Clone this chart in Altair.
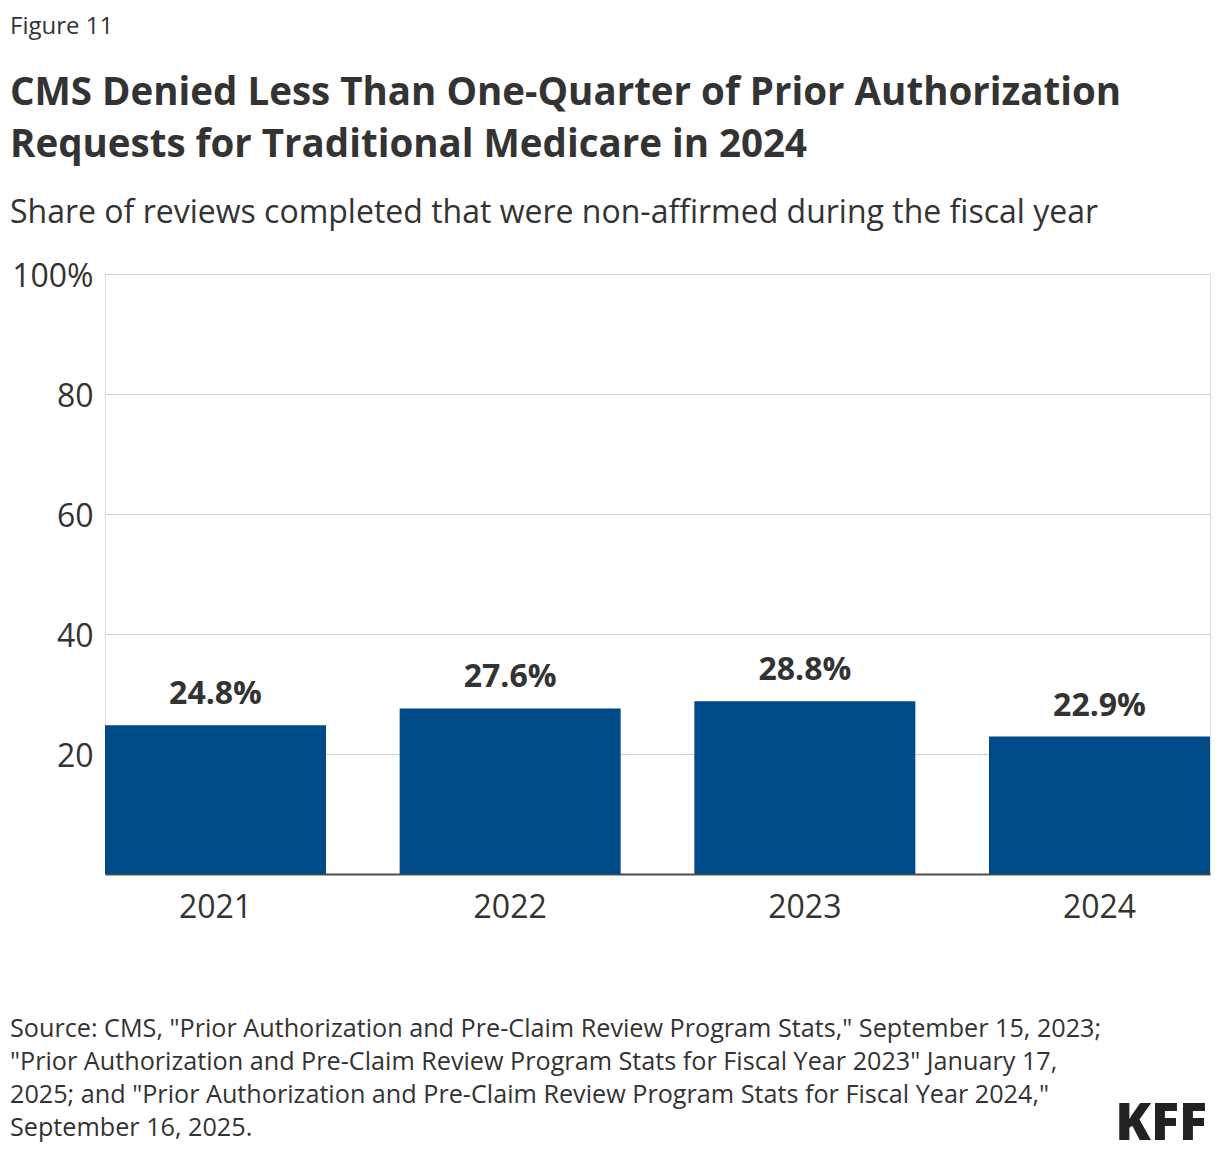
import altair as alt
import pandas as pd

years = ["2021", "2022", "2023", "2024"]
shares = [24.8, 27.6, 28.8, 22.9]
labels = ["24.8%", "27.6%", "28.8%", "22.9%"]

fig_label = "Figure 11"
title_lines = ["CMS Denied Less Than One-Quarter of Prior Authorization",
               "Requests for Traditional Medicare in 2024"]
subtitle = "Share of reviews completed that were non-affirmed during the fiscal year"
source_lines = [
    'Source: CMS, "Prior Authorization and Pre-Claim Review Program Stats," September 15, 2023;',
    '"Prior Authorization and Pre-Claim Review Program Stats for Fiscal Year 2023" January 17,',
    '2025; and "Prior Authorization and Pre-Claim Review Program Stats for Fiscal Year 2024,"',
    'September 16, 2025.',
]

FONT = "Open Sans"
TXT = "#333333"
BAR = "#004a87"

df = pd.DataFrame({"year": years, "share": shares, "label": labels})

W, H = 1105, 600

x = alt.X("year:N", sort=years,
          scale=alt.Scale(paddingInner=0.25, paddingOuter=0),
          axis=alt.Axis(title=None, labelAngle=0, labelFontSize=32, labelColor=TXT,
                        labelFont=FONT, labelPadding=18, ticks=False,
                        domain=True, domainColor="#4d4d4d", domainWidth=2, grid=False))
y = alt.Y("share:Q", scale=alt.Scale(domain=[0, 100], nice=False),
          axis=alt.Axis(title=None, values=[0, 20, 40, 60, 80, 100],
                        labelExpr="datum.value == 0 ? '' : (datum.value == 100 ? '100%' : datum.label)",
                        labelFontSize=32, labelColor=TXT, labelFont=FONT, labelPadding=12,
                        labelBaseline="middle", labelOffset=2,
                        ticks=False, domain=False, grid=True, gridColor="#d0d0d0", gridWidth=1))

bars = alt.Chart(df).mark_bar(color=BAR).encode(x=x, y=y)
vals = alt.Chart(df).mark_text(font=FONT, fontSize=32, fontWeight="bold", color=TXT,
                               baseline="alphabetic", dy=-21).encode(
    x=alt.X("year:N", sort=years), y="share:Q", text="label:N")

def txt(t, xv, yv, size, weight="normal", color=TXT, align="left", font=FONT):
    return alt.Chart(pd.DataFrame({"t": [t]})).mark_text(
        font=font, fontSize=size, fontWeight=weight, color=color, align=align,
        baseline="middle").encode(text="t:N", x=alt.value(xv), y=alt.value(yv))

OX, OY = 105, 274
annots = [txt(fig_label, 10 - OX, 27 - OY, 24)]
annots.append(txt(title_lines[0], 10 - OX, 93 - OY, 38.5, "bold"))
annots.append(txt(title_lines[1], 10 - OX, 145 - OY, 38.5, "bold"))
annots.append(txt(subtitle, 10 - OX, 213 - OY, 32))
for i, line in enumerate(source_lines):
    annots.append(txt(line, 10 - OX, 1029 + 33 * i - OY, 25.2))
annots.append(txt("KFF", 1207 - OX, 1124 - OY, 52, 900, "#222222", "right"))

chart = alt.layer(bars, vals, *annots).properties(
    width=W, height=H,
    padding={"left": OX - 8, "top": OY - 8, "right": 2, "bottom": 280},
    autosize=alt.AutoSizeParams(type="none"),
).configure_view(stroke=None).configure(background="white")

chart.save("out.html", embed_options={"renderer": "svg", "actions": False})
